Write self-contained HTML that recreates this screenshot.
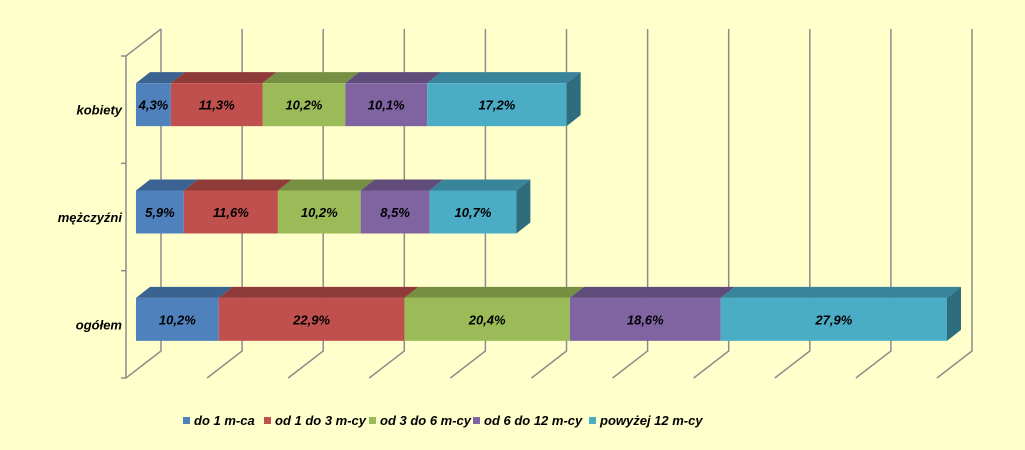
<!DOCTYPE html>
<html><head><meta charset="utf-8"><style>
html,body{margin:0;padding:0;background:#FFFFCC;}
svg{display:block;font-family:"Liberation Sans",sans-serif;}
</style></head><body>
<svg id="chart" width="1025" height="450" viewBox="0 0 1025 450" xmlns="http://www.w3.org/2000/svg">
<rect x="0" y="0" width="1025" height="450" fill="#FFFFCC"/>
<g id="grid"></g><g id="bars"></g><g id="labels"></g><g id="legend"></g>
</svg>
<script>
const categories = ["kobiety", "mężczyźni", "ogółem"];
const seriesNames = ["do 1 m-ca", "od 1 do 3 m-cy", "od 3 do 6 m-cy", "od 6 do 12 m-cy", "powyżej 12 m-cy"];
const s1 = [4.3, 5.9, 10.2];
const s2 = [11.3, 11.6, 22.9];
const s3 = [10.2, 10.2, 20.4];
const s4 = [10.1, 8.5, 18.6];
const s5 = [17.2, 10.7, 27.9];
const xTicks = [0,10,20,30,40,50,60,70,80,90,100];

const series = [s1,s2,s3,s4,s5];
const colors = ["#4F81BD","#C0504D","#9BBB59","#8064A2","#4BACC6"];
const tops = ["#3B6391","#8E3B39","#768F42","#604C7B","#38849A"];
const sides = ["#2F5077","#73302E","#5E7335","#4D3D63","#2E6D7E"];
const NS = "http://www.w3.org/2000/svg";
const fx0 = 126, fy0 = 378, fyTop = 56, dX = 35, dY = -27, sc = 8.11;
function xs(v){ return fx0 + v*sc; }
function el(tag, attrs, parent){ const e=document.createElementNS(NS,tag); for(const k in attrs) e.setAttribute(k,attrs[k]); parent.appendChild(e); return e; }
const grid = document.getElementById('grid');
const gstyle = {stroke:"#8C8C8C","stroke-width":"1.5",fill:"none"};
xTicks.forEach((t,i)=>{
  const x = xs(t);
  const p = el('polyline', Object.assign({points:`${x},${fy0} ${x+dX},${fy0+dY} ${x+dX},${fyTop+dY}`}, gstyle), grid);
  
  
});
const ax = el('line',{x1:fx0,y1:fyTop,x2:fx0,y2:fy0,stroke:"#8C8C8C","stroke-width":"1.5"},grid);


const axTop = el('line',{x1:fx0,y1:fyTop,x2:fx0+dX,y2:fyTop+dY,stroke:"#8C8C8C","stroke-width":"1.5"},grid);


const bandH = (fy0-fyTop)/categories.length;
for(let i=0;i<=categories.length;i++){
  const y = fyTop + i*bandH;
  const t = el('line',{x1:fx0-5,y1:y,x2:fx0,y2:y,stroke:"#8C8C8C","stroke-width":"1.5"},grid);
  
  
}
const bars = document.getElementById('bars');
const labels = document.getElementById('labels');
const bx = 10, by = -8, barH = 43, tdx = 14, tdy = -11;
categories.forEach((c,ci)=>{
  const yc = fyTop + (ci+0.5)*bandH;
  const yTop = yc - barH/2 + by + 3;
  let cum = 0;
  const lab = el('text',{x:122,y:yc+5,"text-anchor":"end","font-size":"13","font-weight":"bold","font-style":"italic",fill:"#000"},labels);
  lab.textContent = c;
  
  
  series.forEach((s,si)=>{
    const x0 = xs(cum)+bx, x1 = xs(cum+s[ci])+bx;
    const g = el('g',{},bars);
    
    
    el('polygon',{points:`${x0},${yTop} ${x0+tdx},${yTop+tdy} ${x1+tdx},${yTop+tdy} ${x1},${yTop}`,fill:tops[si]},g);
    el('rect',{x:x0,y:yTop,width:x1-x0,height:barH,fill:colors[si]},g);
    if(si===series.length-1){
      el('polygon',{points:`${x1},${yTop} ${x1+tdx},${yTop+tdy} ${x1+tdx},${yTop+tdy+barH} ${x1},${yTop+barH}`,fill:sides[si]},g);
    }
    const t = el('text',{x:(x0+x1)/2,y:yTop+barH/2+5,"text-anchor":"middle","font-size":"13","font-weight":"bold","font-style":"italic",fill:"#000"},labels);
    t.textContent = s[ci].toFixed(1).replace('.',',')+'%';
    
    
    cum += s[ci];
  });
});
const legend = document.getElementById('legend');
const lx = [183, 264, 369, 473, 589];
seriesNames.forEach((n,i)=>{
  const g = el('g',{},legend);
  
  
  el('rect',{x:lx[i],y:417,width:7,height:7,fill:colors[i]},g);
  const t = el('text',{x:lx[i]+11,y:425,"font-size":"13","font-weight":"bold","font-style":"italic",fill:"#000"},g);
  t.textContent = n;
});
</script>
</body></html>
